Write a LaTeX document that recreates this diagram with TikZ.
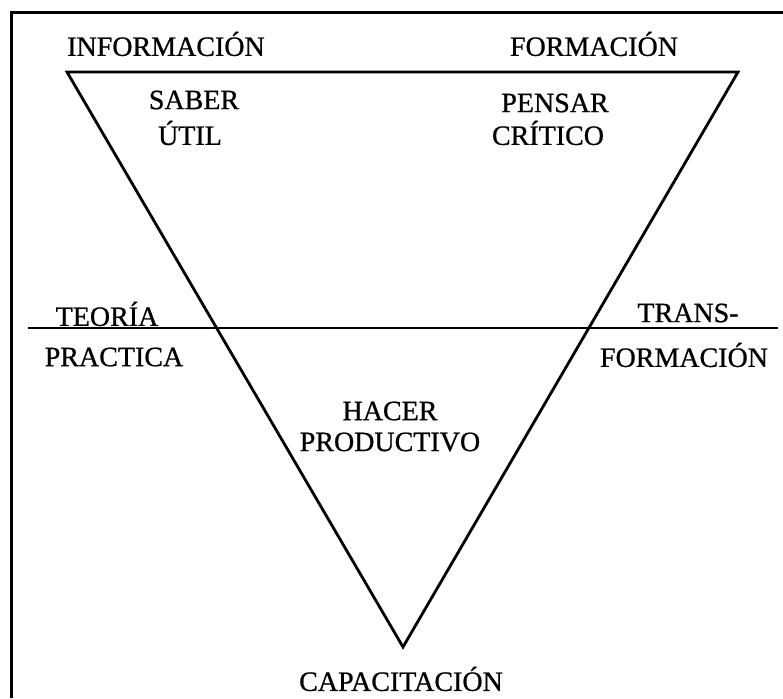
\documentclass[tikz,border=0pt]{standalone}
\usepackage{fontspec}
\setmainfont{Liberation Serif}[BoldFont={Liberation Serif},BoldFeatures={FakeBold=0.8}]
\begin{document}
\begin{tikzpicture}[x=1pt,y=-1pt,
  lbl/.style={font=\fontsize{28}{30}\selectfont\bfseries, inner sep=0pt, anchor=center},
  thick line/.style={line width=2.8pt},
  frame line/.style={line width=3pt}]
\useasboundingbox (0,0) rectangle (783,698);
% frame (left and top sides)
\coordinate (fb) at (11,698);
\coordinate (ftl) at (11,13);
\coordinate (ftr) at (783,13);
\draw[frame line, line join=miter] (fb) -- (ftl) -- (ftr);
% triangle
\coordinate (tl) at (67,72);
\coordinate (tr) at (738,72);
\coordinate (bt) at (403,647);
\draw[thick line, line join=miter] (tl) -- (tr) -- (bt) -- cycle;
% middle line
\coordinate (ml) at (28,328);
\coordinate (mr) at (778,328);
\draw[line width=2.4pt] (ml) -- (mr);
% labels
\node[lbl] (info) at (166,44) {INFORMACIÓN};
\node[lbl] (form) at (594,44) {FORMACIÓN};
\node[lbl] (saber) at (194,100) {SABER};
\node[lbl] (util) at (190,133) {ÚTIL};
\node[lbl] (pensar) at (555,103) {PENSAR};
\node[lbl] (critico) at (548,133) {CRÍTICO};
\node[lbl] (teoria) at (107,314) {TEORÍA};
\node[lbl] (practica) at (114,357) {PRACTICA};
\node[lbl] (trans) at (688,313) {TRANS-};
\node[lbl] (transform) at (684,355) {FORMACIÓN};
\node[lbl] (hacer) at (390,411) {HACER};
\node[lbl] (prod) at (390,442) {PRODUCTIVO};
\node[lbl] (capa) at (401,679) {CAPACITACIÓN};
\end{tikzpicture}
\end{document}
